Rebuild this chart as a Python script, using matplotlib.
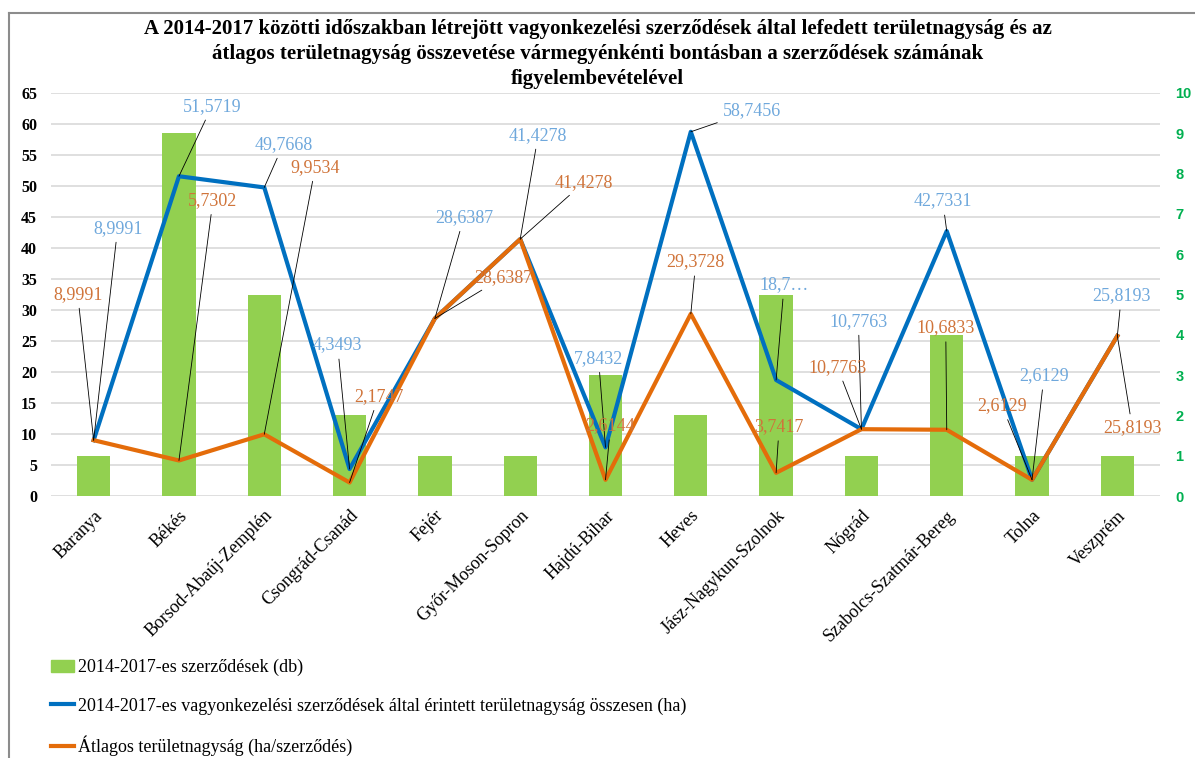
import matplotlib
matplotlib.use('Agg')
import matplotlib.pyplot as plt
import numpy as np
from matplotlib.lines import Line2D
from matplotlib.patches import Patch

plt.rcParams['font.family'] = 'Liberation Serif'

megyek = ['Baranya', 'Békés', 'Borsod-Abaúj-Zemplén', 'Csongrád-Csanád', 'Fejér',
          'Győr-Moson-Sopron', 'Hajdú-Bihar', 'Heves', 'Jász-Nagykun-Szolnok',
          'Nógrád', 'Szabolcs-Szatmár-Bereg', 'Tolna', 'Veszprém']
szerzodesek = [1, 9, 5, 2, 1, 1, 3, 2, 5, 1, 4, 1, 1]
terulet = [8.9991, 51.5719, 49.7668, 4.3493, 28.6387, 41.4278, 7.8432,
           58.7456, 18.7085, 10.7763, 42.7331, 2.6129, 25.8193]
atlag = [8.9991, 5.7302, 9.9534, 2.1747, 28.6387, 41.4278, 2.6144,
         29.3728, 3.7417, 10.7763, 10.6833, 2.6129, 25.8193]
terulet_cimke = ['8,9991', '51,5719', '49,7668', '4,3493', '28,6387', '41,4278', '7,8432',
                 '58,7456', '18,7…', '10,7763', '42,7331', '2,6129', '25,8193']
atlag_cimke = ['8,9991', '5,7302', '9,9534', '2,1747', '28,6387', '41,4278', '2,6144',
               '29,3728', '3,7417', '10,7763', '10,6833', '2,6129', '25,8193']

# data label offsets in pixels from the point (dx, dy)
kek_eltolas = [(24, 212), (33, 70), (19, 43), (-12, 124), (29, 101), (18, 104), (-7, 89),
               (61, 21), (8, 95), (-3, 108), (-4, 30), (12, 104), (4, 40)]
narancs_eltolas = [(-16, 146), (34, 260), (51, 267), (29, 86), (68, 41), (64, 57), (5, 54),
                   (5, 52), (3, 46), (-24, 62), (-1, 102), (-30, 74), (15, -92)]

cim = ("A 2014-2017 közötti időszakban létrejött vagyonkezelési szerződések által lefedett területnagyság és az\n"
       "átlagos területnagyság összevetése vármegyénkénti bontásban a szerződések számának\n"
       "figyelembevételével")
leg_labels = ['2014-2017-es szerződések (db)',
              '2014-2017-es vagyonkezelési szerződések által érintett területnagyság összesen (ha)',
              'Átlagos területnagyság (ha/szerződés)']

kek = '#0070C0'
narancs = '#E46C0A'
zold = '#92D050'

fig = plt.figure(figsize=(11.95, 7.58), dpi=100)
pos = [51/1195, 1-496/758, 1109/1195, 403/758]
ax = fig.add_axes(pos)
x = np.arange(len(megyek))

ax.set_xlim(-0.5, len(megyek)-0.5)
ax.set_ylim(0, 65)
ax.set_yticks(range(0, 70, 5))
ax.grid(axis='y', color='#D9D9D9', lw=1.2)
ax.set_axisbelow(True)
for s in ax.spines.values():
    s.set_visible(False)
ax.tick_params(axis='both', length=0)
ax.tick_params(axis='y', pad=10, labelsize=11.5)
for t in ax.get_yticklabels():
    t.set_fontweight('bold')
ax.set_xticks(x)
ax.set_xticklabels(megyek, rotation=45, ha='right', rotation_mode='anchor', fontsize=13)
ax.tick_params(axis='x', pad=8)

ax_bar = ax.twinx()
ax_bar.bar(x, szerzodesek, width=0.39, color=zold, zorder=2)
ax_bar.set_ylim(0, 10)
ax_bar.set_yticks(range(0, 11))
for s in ax_bar.spines.values():
    s.set_visible(False)
ax_bar.tick_params(axis='y', length=0, pad=11, labelsize=10.5, labelcolor='#00B050')
for t in ax_bar.get_yticklabels():
    t.set_fontweight('bold')
    t.set_family('Liberation Sans')

ax_line = fig.add_axes(pos, sharex=ax, sharey=ax)
ax_line.set_zorder(ax_bar.get_zorder()+1)
ax_line.patch.set_visible(False)
ax_line.axis('off')
ax_line.plot(x, terulet, color=kek, lw=3)
ax_line.plot(x, atlag, color=narancs, lw=3)

for i in range(len(megyek)):
    ax_line.annotate(terulet_cimke[i], xy=(x[i], terulet[i]), xytext=kek_eltolas[i],
                     textcoords='offset pixels', ha='center', va='center', fontsize=13,
                     color='#6FA8DC', annotation_clip=False,
                     arrowprops=dict(arrowstyle='-', color='black', lw=0.6, shrinkA=2, shrinkB=0))
    ax_line.annotate(atlag_cimke[i], xy=(x[i], atlag[i]), xytext=narancs_eltolas[i],
                     textcoords='offset pixels', ha='center', va='center', fontsize=13,
                     color='#D0743A', annotation_clip=False,
                     arrowprops=dict(arrowstyle='-', color='black', lw=0.6, shrinkA=2, shrinkB=0))

fig.text(0.5, 1-19/758, cim, ha='center', va='top', fontsize=15, fontweight='bold', linespacing=1.32)

handles = [Patch(color=zold), Line2D([], [], color=kek, lw=3), Line2D([], [], color=narancs, lw=3)]
fig.legend(handles, leg_labels, loc='upper left', bbox_to_anchor=(51/1195, 1-659/758),
           frameon=False, fontsize=13, labelspacing=1.17, handlelength=1.3, handletextpad=0.2,
           borderaxespad=0, borderpad=0)

# chart frame
fig.add_artist(Line2D([9/1195, 9/1195], [0, 1-13/758], transform=fig.transFigure, color='#8C8C8C', lw=1.5))
fig.add_artist(Line2D([9/1195, 1], [1-13/758, 1-13/758], transform=fig.transFigure, color='#8C8C8C', lw=1.5))

fig.savefig('out.png', dpi=100)
